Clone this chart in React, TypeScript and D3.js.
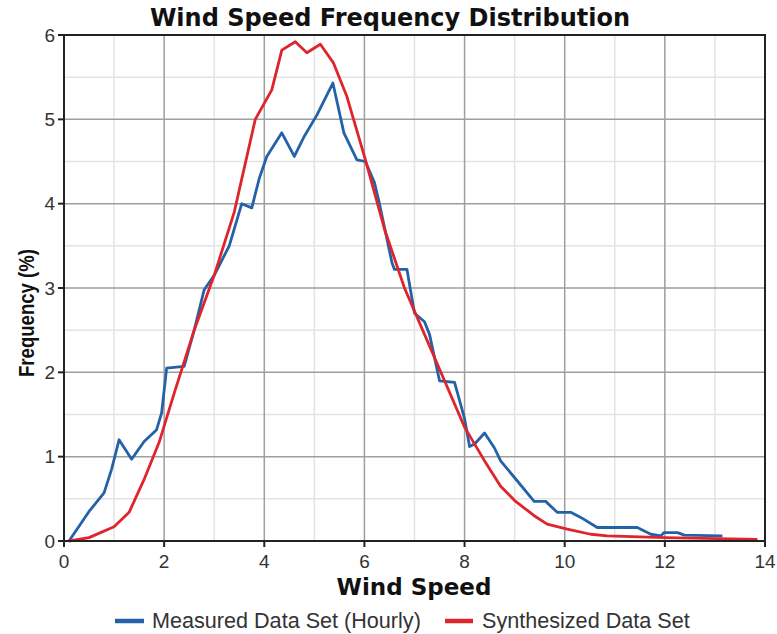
import React from "react";
import * as d3 from "d3";

const measuredX = [0.1,0.5,0.8,0.95,1.1,1.35,1.6,1.85,1.95,2.05,2.4,2.6,2.8,3.0,3.3,3.55,3.75,3.9,4.05,4.35,4.6,4.8,5.05,5.37,5.59,5.85,6.02,6.2,6.3,6.55,6.6,6.85,7.0,7.2,7.3,7.5,7.8,8.0,8.1,8.2,8.4,8.6,8.72,9.0,9.39,9.62,9.85,10.12,10.32,10.65,11.45,11.72,11.92,11.98,12.25,12.39,13.12,13.15];
const measuredY = [0,0.35,0.57,0.85,1.2,0.97,1.18,1.32,1.52,2.05,2.07,2.5,2.98,3.15,3.5,4.0,3.95,4.3,4.56,4.84,4.56,4.8,5.05,5.43,4.84,4.52,4.5,4.25,4.0,3.3,3.22,3.22,2.7,2.6,2.45,1.9,1.88,1.45,1.12,1.15,1.28,1.1,0.95,0.75,0.47,0.47,0.34,0.34,0.28,0.16,0.16,0.08,0.06,0.1,0.1,0.07,0.06,0.06];

const synthX = [0.1,0.5,1.0,1.3,1.6,1.9,2.2,2.6,3.0,3.4,3.82,4.15,4.35,4.62,4.85,5.12,5.38,5.65,6.0,6.4,6.8,7.2,7.6,8.0,8.4,8.72,9.0,9.39,9.65,10.05,10.52,10.85,12.0,13.85];
const synthY = [0,0.04,0.17,0.34,0.73,1.17,1.75,2.5,3.15,3.9,5.0,5.35,5.82,5.92,5.79,5.89,5.67,5.27,4.56,3.7,3.0,2.45,1.9,1.35,0.95,0.65,0.48,0.3,0.2,0.14,0.08,0.06,0.04,0.02];

const xMajor = [0,2,4,6,8,10,12,14];
const xMinor = [1,3,5,7,9,11,13];
const yMajor = [0,1,2,3,4,5,6];
const yMinor = [0.5,1.5,2.5,3.5,4.5,5.5];

const W = 777, H = 634;
const L = 64, R = 765, T = 35, B = 541;

export default function App() {
  const x = d3.scaleLinear().domain([0, 14]).range([L, R]);
  const y = d3.scaleLinear().domain([0, 6]).range([B, T]);
  const line = d3.line<[number, number]>().x(d => x(d[0])).y(d => y(d[1]));
  const measured = measuredX.map((v, i) => [v, measuredY[i]] as [number, number]);
  const synth = synthX.map((v, i) => [v, synthY[i]] as [number, number]);
  const blue = "#2462a8";
  const red = "#e0242b";
  const bold = "'DejaVu Sans', sans-serif";
  const reg = "'Liberation Sans', Arial, sans-serif";
  return (
    <svg width={W} height={H} style={{ position: "absolute", left: 0, top: 0, background: "#fff" }}>
      <rect x={0} y={0} width={W} height={H} fill="#fff" />
      <text x={390} y={26} textAnchor="middle" fontFamily={bold} fontWeight="bold" fontSize={24} fill="#111">Wind Speed Frequency Distribution</text>
      {xMinor.map(v => <line key={"xm" + v} x1={x(v)} x2={x(v)} y1={T} y2={B} stroke="#e4e4e4" strokeWidth={1.5} />)}
      {yMinor.map(v => <line key={"ym" + v} x1={L} x2={R} y1={y(v)} y2={y(v)} stroke="#e4e4e4" strokeWidth={1.5} />)}
      {xMajor.slice(1, -1).map(v => <line key={"xM" + v} x1={x(v)} x2={x(v)} y1={T} y2={B} stroke="#9e9e9e" strokeWidth={1.5} />)}
      {yMajor.slice(1, -1).map(v => <line key={"yM" + v} x1={L} x2={R} y1={y(v)} y2={y(v)} stroke="#9e9e9e" strokeWidth={1.5} />)}
      <path d={line(measured) || ""} fill="none" stroke={blue} strokeWidth={2.8} strokeLinejoin="round" />
      <path d={line(synth) || ""} fill="none" stroke={red} strokeWidth={2.8} strokeLinejoin="round" />
      <rect x={L} y={T} width={R - L} height={B - T} fill="none" stroke="#222" strokeWidth={2} />
      {yMajor.map(v => (
        <g key={"yt" + v}>
          <line x1={L - 6} x2={L} y1={y(v)} y2={y(v)} stroke="#222" strokeWidth={2} />
          <text x={L - 9} y={y(v) + 6.5} textAnchor="end" fontFamily={reg} fontSize={19} fill="#333">{v}</text>
        </g>
      ))}
      {xMajor.map(v => (
        <g key={"xt" + v}>
          <line x1={x(v)} x2={x(v)} y1={B} y2={B + 6} stroke="#222" strokeWidth={2} />
          <text x={x(v)} y={B + 27} textAnchor="middle" fontFamily={reg} fontSize={19} fill="#333">{v}</text>
        </g>
      ))}
      <text x={414} y={595} textAnchor="middle" fontFamily={bold} fontWeight="bold" fontSize={23} fill="#111">Wind Speed</text>
      <text transform={`translate(34,313) rotate(-90)`} textAnchor="middle" fontFamily={reg} fontWeight="bold" fontSize={22} textLength={128} lengthAdjust="spacingAndGlyphs" fill="#111">Frequency (%)</text>
      <line x1={115} x2={144} y1={621} y2={621} stroke={blue} strokeWidth={4.5} />
      <text x={152} y={628} fontFamily={reg} fontSize={21.6} fill="#333">Measured Data Set (Hourly)</text>
      <line x1={445} x2={473} y1={621} y2={621} stroke={red} strokeWidth={4.5} />
      <text x={482} y={628} fontFamily={reg} fontSize={21.6} fill="#333">Synthesized Data Set</text>
    </svg>
  );
}
